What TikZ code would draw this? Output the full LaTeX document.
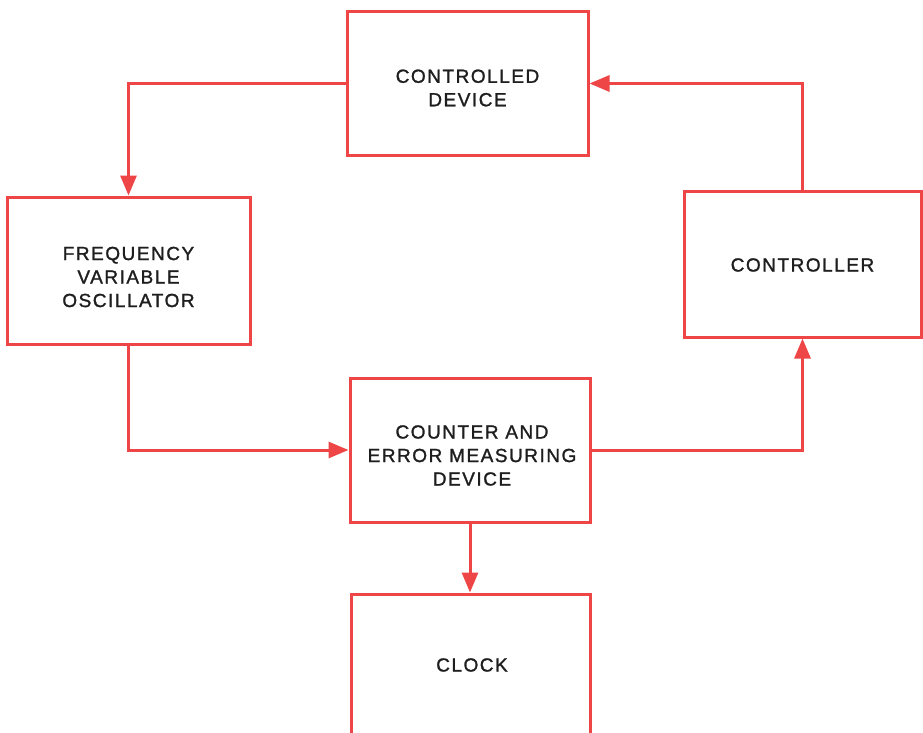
\documentclass[tikz,border=0pt]{standalone}
\usepackage{fontspec}
\setmainfont{Liberation Sans}[LetterSpace=8,FakeBold=1.3]
\usetikzlibrary{arrows.meta}
\definecolor{boxred}{RGB}{238,70,70}
\definecolor{ink}{RGB}{30,30,30}
\tikzset{
  blk/.style={draw=boxred, line width=3pt, rectangle, fill=white,
    inner sep=0pt},
  txt/.style={align=center, text=ink, font=\fontsize{19}{23.5}\selectfont,
    inner sep=0pt},
  arr/.style={draw=boxred, line width=3pt,
    -{Triangle[length=20pt,width=16pt]}},
}
\begin{document}
\begin{tikzpicture}[x=1pt,y=-1pt]
\useasboundingbox (0,0) rectangle (923,733);
\clip (0,0) rectangle (923,733);
\fill[white] (0,0) rectangle (923,733);

% boxes
\node[blk, minimum width=241pt, minimum height=143pt] (dev) at (467.5,83.5) {};
\node[blk, minimum width=243pt, minimum height=147pt] (fvo) at (128.5,270.5) {};
\node[blk, minimum width=237pt, minimum height=146pt] (ctrl) at (802.5,264) {};
\node[blk, minimum width=240pt, minimum height=144pt] (cnt) at (470,450) {};
\node[blk, minimum width=239pt, minimum height=150pt] (clk) at (470.5,669) {};

% box captions
\node[txt] (devt) at (467.5,88) {CONTROLLED\\DEVICE};
\node[txt] (fvot) at (128.5,277) {FREQUENCY\\VARIABLE\\OSCILLATOR};
\node[txt] (ctrlt) at (802.5,265) {CONTROLLER};
\node[txt] (cntt) at (472,455.5) {COUNTER AND\\ERROR MEASURING\\DEVICE};
\node[txt] (clkt) at (472,665) {CLOCK};

% signal flow
\draw[arr] (dev.west) -| (fvo.north);
\draw[arr] (fvo.south) |- (cnt.west);
\draw[arr] (cnt.east) -| (ctrl.south);
\draw[arr] (ctrl.north) |- (dev.east);
\draw[arr] (cnt.south) -- (cnt.south |- clk.north);
\end{tikzpicture}
\end{document}
